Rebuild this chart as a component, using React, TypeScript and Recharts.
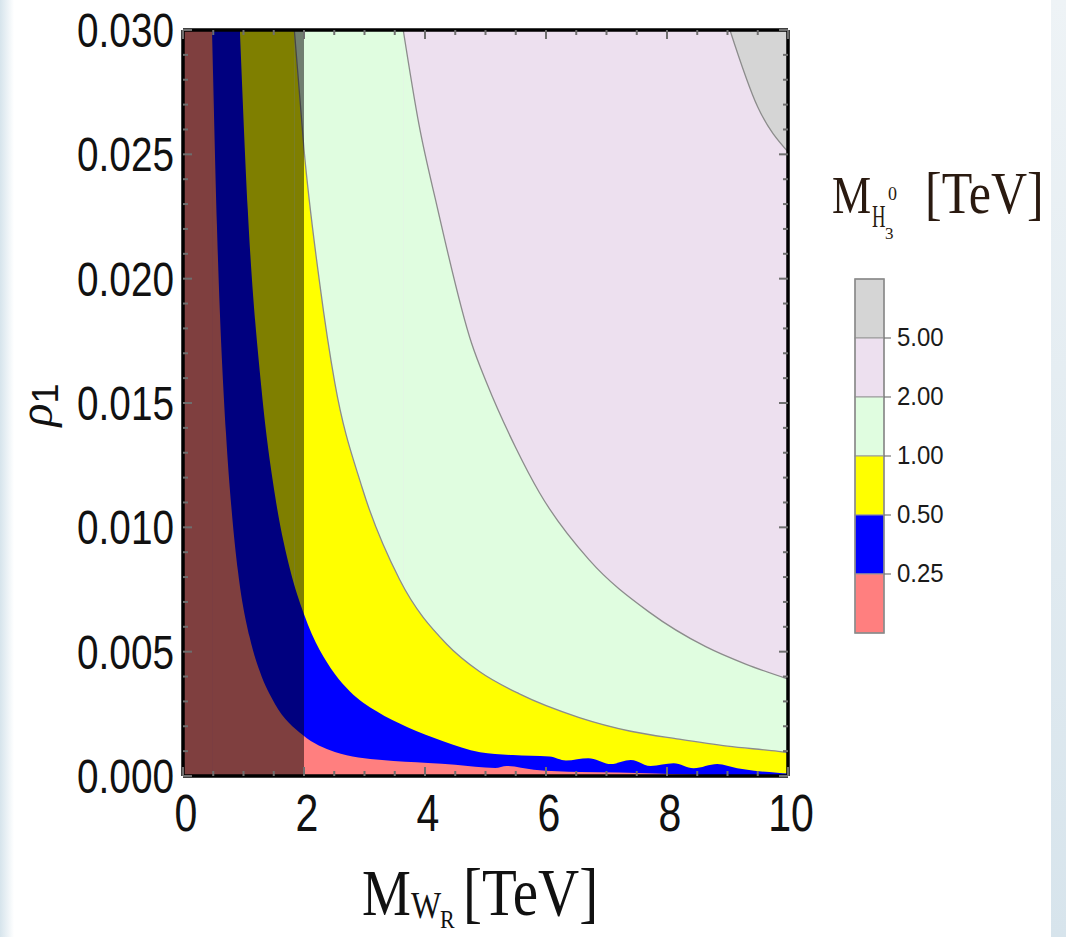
import { ComposedChart, Area, XAxis, YAxis, CartesianGrid, ReferenceArea } from 'recharts';

// contour boundaries: x = M_WR [TeV], y = rho_1
// each curve starts where it leaves the top edge (rho_1 = 0.030)
// M = 5 TeV (grey above / lavender below)
const m5X = [9.04, 9.5, 10];
const m5Y = [0.03, 0.0269, 0.0251];
// M = 2 TeV
const m2X = [3.64, 3.9, 4.2, 4.77, 5.02, 5.5, 5.89, 6.71, 7.7, 8.64, 9.3, 10];
const m2Y = [0.03, 0.0262, 0.0229, 0.0174, 0.0158, 0.0132, 0.0114, 0.0087, 0.0066, 0.0052, 0.0045, 0.0039];
// M = 1 TeV
const m1X = [1.84, 2.0, 2.26, 2.51, 2.96, 3.58, 4.36, 4.9, 5.56, 6.55, 7.4, 8.2, 9.0, 9.84, 10];
const m1Y = [0.03, 0.0252, 0.0198, 0.0158, 0.0116, 0.0079, 0.0053, 0.0042, 0.0033, 0.00235, 0.0018, 0.00148, 0.0012, 0.00099, 0.00094];
// M = 0.5 TeV (jagged near the bottom)
const m05X = [0.94, 1.07, 1.3, 1.52, 1.77, 2.0, 2.51, 2.76, 3.2, 3.72, 4.3, 4.91, 5.45, 6.06, 6.33, 6.7, 7.07, 7.4, 7.73, 8.11, 8.44, 8.83, 9.16, 9.44, 9.82, 10];
const m05Y = [0.03, 0.0228, 0.0155, 0.0113, 0.0083, 0.0065, 0.0041, 0.0034, 0.0026, 0.00195, 0.0014, 0.00096, 0.00084, 0.00078, 0.00062, 0.00071, 0.00048, 0.00064, 0.0004, 0.00051, 0.00031, 0.00048, 0.00031, 0.00021, 0.00013, 0.0001];
// M = 0.25 TeV
const m025X = [0.48, 0.56, 0.71, 0.8, 0.91, 1.1, 1.27, 1.52, 1.98, 2.51, 3.29, 4.05, 4.5, 5.16, 5.35, 5.8, 6.56, 7.2, 7.8, 8.5, 9.0, 10];
const m025Y = [0.03, 0.0222, 0.0138, 0.0108, 0.0082, 0.0056, 0.0042, 0.0029, 0.00165, 0.00097, 0.00064, 0.00052, 0.00045, 0.00032, 0.0004, 0.00025, 0.00016, 0.00014, 0.0001, 0.00005, 0.00002, 0];

const barColors = ['#d5d5d5', '#ede0ef', '#e0fde0', '#ffff00', '#0000ff', '#ff7f7f'];
const barLabels = ['5.00', '2.00', '1.00', '0.50', '0.25'];

const xTicks = Array.from({ length: 21 }, (_, i) => i * 0.5);
const yTicks = Array.from({ length: 31 }, (_, i) => i / 1000);
const Y_TOP = 0.03;

const W = 1066;
const H = 937;
const SANS = '"Liberation Sans", Arial, sans-serif';
const SERIF = '"Liberation Serif", "Times New Roman", serif';
const TICK = '#6e6e6e';

const levels = [
  { key: 'm5', xs: m5X, ys: m5Y, color: barColors[1], line: true },
  { key: 'm2', xs: m2X, ys: m2Y, color: barColors[2], line: true },
  { key: 'm1', xs: m1X, ys: m1Y, color: barColors[3], line: true },
  { key: 'm05', xs: m05X, ys: m05Y, color: barColors[4], line: false },
  { key: 'm025', xs: m025X, ys: m025Y, color: barColors[5], line: false },
];

function buildRows() {
  // curve part + the full-height part left of where the curve meets the top edge
  const curves: Record<string, number[][]> = {};
  levels.forEach((l) => {
    curves[l.key] = [l.xs, l.ys];
    curves[l.key + 'Left'] = [[0, l.xs[0]], [Y_TOP, Y_TOP]];
  });
  const xs = Array.from(new Set(Object.values(curves).flatMap(([cx]) => cx))).sort((a, b) => a - b);
  return xs.map((x) => {
    const row: Record<string, number | null> = { x };
    for (const [k, [cx, cy]] of Object.entries(curves)) {
      const i = cx.indexOf(x);
      row[k] = i >= 0 ? cy[i] : null;
    }
    return row;
  });
}

const isMajorX = (v: number) => v % 2 === 0;
const isMajorY = (v: number) => Math.round(v * 1000) % 5 === 0;

function BottomTick(props: any) {
  const { x, y, payload } = props;
  const v = payload.value;
  const major = isMajorX(v);
  return (
    <g>
      <line x1={x} x2={x} y1={y} y2={y - (major ? 9 : 5)} stroke={TICK} strokeWidth={2} />
      {major && (
        <text transform={`translate(${x + 3},${y + 55}) scale(1,1.28)`} textAnchor="middle"
          fontFamily={SANS} fontSize={41} fill="#111">{v}</text>
      )}
    </g>
  );
}

function TopTick(props: any) {
  const { x, y, payload } = props;
  const major = isMajorX(payload.value);
  return <line x1={x} x2={x} y1={y} y2={y + (major ? 9 : 5)} stroke={TICK} strokeWidth={2} />;
}

function LeftTick(props: any) {
  const { x, y, payload } = props;
  const v = payload.value;
  const major = isMajorY(v);
  return (
    <g>
      <line x1={x} x2={x + (major ? 9 : 5)} y1={y} y2={y} stroke={TICK} strokeWidth={2} />
      {major && (
        <text transform={`translate(${x - 9},${y + 17}) scale(1.02,1.28)`} textAnchor="end"
          fontFamily={SANS} fontSize={38} fill="#111">{v.toFixed(3)}</text>
      )}
    </g>
  );
}

function RightTick(props: any) {
  const { x, y, payload } = props;
  const major = isMajorY(payload.value);
  return <line x1={x} x2={x - (major ? 9 : 5)} y1={y} y2={y} stroke={TICK} strokeWidth={2} />;
}

function ColorBar() {
  const x0 = 855;
  const top = 279;
  const seg = 59;
  return (
    <g>
      {barColors.map((c, i) => (
        <rect key={c} x={x0} y={top + i * seg} width={29} height={seg} fill={c} stroke="#999" strokeWidth={1} />
      ))}
      <rect x={x0} y={top} width={29} height={seg * barColors.length} fill="none" stroke="#8a8a8a" strokeWidth={1.5} />
      {barLabels.map((l, i) => {
        const yy = top + (i + 1) * seg;
        return (
          <g key={l}>
            <line x1={x0 + 29} x2={x0 + 36} y1={yy} y2={yy} stroke="#777" strokeWidth={1.2} />
            <text transform={`translate(${x0 + 42},${yy + 8}) scale(1,1.08)`} fontFamily={SANS} fontSize={24} fill="#1a1a1a">{l}</text>
          </g>
        );
      })}
    </g>
  );
}

export default function App() {
  const rows = buildRows();
  const common = { connectNulls: true, isAnimationActive: false, dot: false, activeDot: false, fillOpacity: 1 };
  const axisLine = { stroke: '#000', strokeWidth: 3.5 };
  return (
    <div style={{ position: 'absolute', left: 0, top: 0, width: W, height: H, background: '#fff', overflow: 'hidden' }}>
      <div style={{ position: 'absolute', left: 0, top: 0, width: 14, height: H, background: 'linear-gradient(to right, #d6e4ec, #ffffff)' }} />
      <div style={{ position: 'absolute', left: 1051, top: 0, width: 15, height: H, background: 'linear-gradient(to bottom, #eef3f6, #d7e4ec)' }} />
      <div style={{ position: 'absolute', left: 0, top: 0 }}>
        <ComposedChart width={W} height={H} data={rows} margin={{ top: 29, right: 277, bottom: 101, left: 123 }}>
          <CartesianGrid horizontal={false} vertical={false} fill={barColors[0]} fillOpacity={1} />
          {levels.flatMap((l) => [
            <Area key={l.key + 'Left'} {...common} type="linear" dataKey={l.key + 'Left'} fill={l.color}
              stroke="none" shapeRendering="crispEdges" />,
            <Area key={l.key} {...common} type="monotone" dataKey={l.key} fill={l.color}
              stroke={l.line ? '#8c8c8c' : 'none'} strokeWidth={1.3} />,
          ])}
          <ReferenceArea x1={0} x2={2} y1={0} y2={Y_TOP} fill="#000" fillOpacity={0.5} stroke="none" ifOverflow="hidden" />
          <XAxis dataKey="x" type="number" domain={[0, 10]} ticks={xTicks} interval={0} height={60}
            tickSize={0} tickMargin={0} tickLine={false} tick={BottomTick} allowDataOverflow axisLine={axisLine} />
          <XAxis xAxisId="t" orientation="top" dataKey="x" type="number" domain={[0, 10]} ticks={xTicks} interval={0} height={1}
            tickSize={0} tickMargin={0} tickLine={false} tick={TopTick} allowDataOverflow axisLine={axisLine} />
          <YAxis type="number" domain={[0, Y_TOP]} ticks={yTicks} interval={0} width={60}
            tickSize={0} tickMargin={0} tickLine={false} tick={LeftTick} allowDataOverflow axisLine={axisLine} />
          <YAxis yAxisId="r" orientation="right" type="number" domain={[0, Y_TOP]} ticks={yTicks} interval={0} width={1}
            tickSize={0} tickMargin={0} tickLine={false} tick={RightTick} allowDataOverflow axisLine={axisLine} />
        </ComposedChart>
      </div>
      <svg width={W} height={H} style={{ position: 'absolute', left: 0, top: 0, pointerEvents: 'none' }}>
        {/* y axis title */}
        <text transform="translate(52,405) rotate(-90)" textAnchor="middle" fill="#111">
          <tspan fontFamily={SERIF} fontStyle="italic" fontSize={48}>ρ</tspan>
          <tspan fontFamily={SANS} fontSize={36} dy={6}>1</tspan>
        </text>
        {/* x axis title */}
        <g fontFamily={SERIF} fill="#111">
          <text transform="translate(362,915) scale(1,1.18)" fontSize={55}>M</text>
          <text transform="translate(411,918) scale(1,1.18)" fontSize={32}>W</text>
          <text transform="translate(440,928) scale(1,1.18)" fontSize={22}>R</text>
          <text transform="translate(463,915) scale(1,1.18)" fontSize={57}>[TeV]</text>
        </g>
        {/* colour bar title */}
        <g fontFamily={SERIF} fill="#2a1a10">
          <text transform="translate(832,213) scale(1,1.2)" fontSize={44}>M</text>
          <text transform="translate(872,227) scale(0.85,1.45)" fontSize={22}>H</text>
          <text transform="translate(885,239)" fontSize={17}>3</text>
          <text transform="translate(888,200)" fontSize={18}>0</text>
          <text transform="translate(925,213) scale(1,1.2)" fontSize={50}>[TeV]</text>
        </g>
        <ColorBar />
      </svg>
    </div>
  );
}
